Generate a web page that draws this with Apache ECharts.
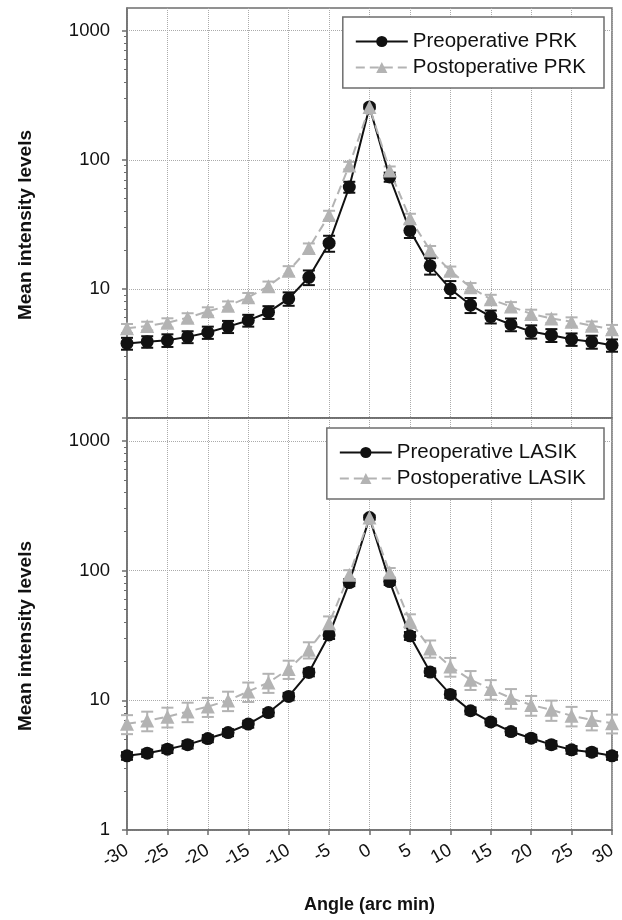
<!DOCTYPE html>
<html>
<head>
<meta charset="utf-8" />
<title>Mean intensity levels</title>
<script src="https://cdn.jsdelivr.net/npm/echarts@6/dist/echarts.min.js"></script>
<style>
  html, body { margin: 0; padding: 0; background: #fff; }
  #chart { width: 622px; height: 920px; }
</style>
</head>
<body>
<div id="chart"></div>
<script type="text/javascript">
  // angle of each measurement (arc min)
  var angles = [-30, -27.5, -25, -22.5, -20, -17.5, -15, -12.5, -10, -7.5, -5, -2.5, 0,
                2.5, 5, 7.5, 10, 12.5, 15, 17.5, 20, 22.5, 25, 27.5, 30];
  var yLabelsTop = [10, 100, 1000];
  var yLabelsBottom = [1, 10, 100, 1000];
  var yMajorTicks = [1, 10, 100, 1000];
  var yMinorTicks = [2, 3, 4, 5, 6, 7, 8, 9, 20, 30, 40, 50, 60, 70, 80, 90,
                     200, 300, 400, 500, 600, 700, 800, 900];

  // PRK panel
  var prkPre = [3.78, 3.9, 4.0, 4.25, 4.6, 5.1, 5.7, 6.6, 8.4, 12.3, 22.6, 61.6, 257,
                73.6, 28.3, 15.1, 10, 7.5, 6.1, 5.3, 4.67, 4.38, 4.07, 3.89, 3.66];
  var prkPreErr = [0.4, 0.4, 0.45, 0.45, 0.5, 0.55, 0.6, 0.75, 1.0, 1.6, 3.2, 6, 10,
                   6, 3.5, 2.2, 1.5, 1.0, 0.7, 0.6, 0.55, 0.5, 0.45, 0.45, 0.4];
  var prkPost = [4.95, 5.17, 5.47, 5.98, 6.7, 7.4, 8.6, 10.5, 13.8, 20.7, 37.3, 90.4, 257,
                 82.8, 35.2, 19.9, 13.8, 10.3, 8.3, 7.3, 6.4, 5.9, 5.57, 5.19, 4.86];
  var prkPostErr = [0.4, 0.4, 0.45, 0.5, 0.5, 0.6, 0.7, 0.9, 1.2, 1.8, 3, 6, 10,
                    6, 3, 1.6, 1.1, 0.8, 0.7, 0.6, 0.5, 0.45, 0.45, 0.4, 0.4];

  // LASIK panel
  var lasikPre = [3.73, 3.91, 4.2, 4.55, 5.07, 5.64, 6.55, 8.04, 10.7, 16.4, 31.9, 80.8, 256,
                  82.3, 31.4, 16.5, 11.1, 8.3, 6.8, 5.74, 5.1, 4.55, 4.15, 3.98, 3.73];
  var lasikPreErr = [0.25, 0.25, 0.28, 0.3, 0.32, 0.35, 0.4, 0.5, 0.7, 1.1, 2.2, 5, 10,
                     5, 2.2, 1.1, 0.7, 0.5, 0.4, 0.35, 0.32, 0.3, 0.28, 0.25, 0.25];
  var lasikPost = [6.58, 6.97, 7.47, 8.18, 8.94, 9.95, 11.7, 13.7, 17.4, 24.5, 39.3, 92.7, 256,
                   96.6, 41, 25.1, 18.2, 14.4, 12.2, 10.4, 9.2, 8.44, 7.59, 7.06, 6.65];
  var lasikPostErr = [1.1, 1.2, 1.3, 1.4, 1.5, 1.7, 2.0, 2.3, 2.8, 3.5, 5, 8, 10,
                      8, 5, 3.8, 3.0, 2.4, 2.1, 1.8, 1.6, 1.5, 1.3, 1.2, 1.1];

  var BLACK = "#111";
  var GRAY = "#b3b3b3";
  var FRAME = "#6e6e6e";
  var FONT = "Liberation Sans, Arial, sans-serif";

  function pairs(vals) {
    return angles.map(function (a, i) { return [a, vals[i]]; });
  }
  function bars(vals, err) {
    return angles.map(function (a, i) { return [a, vals[i] - err[i], vals[i] + err[i]]; });
  }

  function renderErr(color) {
    return function (params, api) {
      var x = api.value(0);
      var lo = api.coord([x, api.value(1)]);
      var hi = api.coord([x, api.value(2)]);
      var w = 6;
      var st = { stroke: color, lineWidth: 2 };
      return {
        type: "group",
        children: [
          { type: "line", shape: { x1: lo[0], y1: lo[1], x2: hi[0], y2: hi[1] }, style: st },
          { type: "line", shape: { x1: lo[0] - w, y1: lo[1], x2: lo[0] + w, y2: lo[1] }, style: st },
          { type: "line", shape: { x1: hi[0] - w, y1: hi[1], x2: hi[0] + w, y2: hi[1] }, style: st }
        ]
      };
    };
  }

  function errSeries(idx, vals, err, color) {
    return {
      type: "custom",
      xAxisIndex: idx,
      yAxisIndex: idx * 2,
      renderItem: renderErr(color),
      encode: { x: 0, y: [1, 2] },
      data: bars(vals, err),
      z: 2
    };
  }

  function lineSeries(idx, name, vals, color, dashed) {
    return {
      type: "line",
      name: name,
      xAxisIndex: idx,
      yAxisIndex: idx * 2,
      data: pairs(vals),
      symbol: dashed ? "triangle" : "circle",
      symbolSize: dashed ? 14 : 13,
      showSymbol: true,
      itemStyle: { color: color },
      lineStyle: { color: color, width: 2, type: dashed ? [9, 5] : "solid" },
      z: 3,
      animation: false
    };
  }

  function xAxis(idx, showLabels) {
    return {
      type: "value",
      gridIndex: idx,
      min: -30,
      max: 30,
      interval: 5,
      axisLine: { show: true, onZero: false, lineStyle: { color: FRAME, width: 1.5 } },
      axisTick: { show: showLabels, length: 5, lineStyle: { color: FRAME, width: 1.5 } },
      axisLabel: {
        show: showLabels,
        rotate: 30,
        margin: 19,
        fontSize: 18.5,
        color: BLACK,
        fontFamily: FONT
      },
      splitLine: { show: true, lineStyle: { type: "dotted", color: "#aaa", width: 1 } },
      name: showLabels ? "Angle (arc min)" : "",
      nameLocation: "middle",
      nameGap: 66,
      nameTextStyle: { fontSize: 18, fontWeight: "bold", color: BLACK, fontFamily: FONT }
    };
  }

  function yAxes(idx, labels) {
    return [
      {
        type: "log",
        logBase: 10,
        gridIndex: idx,
        min: 1,
        max: 1500,
        axisLine: { show: true, onZero: false, lineStyle: { color: FRAME, width: 1.5 } },
        axisTick: { show: true, length: 5, customValues: yMajorTicks, lineStyle: { color: FRAME, width: 1.5 } },
        axisLabel: {
          customValues: labels,
          formatter: function (v) { return String(Math.round(v)); },
          margin: 17,
          fontSize: 18.5,
          color: BLACK,
          fontFamily: FONT
        },
        splitLine: { show: true, lineStyle: { type: "dotted", color: "#aaa", width: 1 } },
        name: "Mean intensity levels",
        nameLocation: "middle",
        nameGap: 92,
        nameTextStyle: {
          fontSize: 19,
          fontWeight: "bold",
          color: BLACK,
          fontFamily: FONT,
          padding: [0, 24, 0, 0]
        }
      },
      {
        // minor ticks only
        type: "log",
        logBase: 10,
        gridIndex: idx,
        min: 1,
        max: 1500,
        position: "left",
        axisLine: { show: false, onZero: false },
        axisTick: { show: true, length: 3, customValues: yMinorTicks, lineStyle: { color: FRAME, width: 1 } },
        axisLabel: { show: false },
        splitLine: { show: false }
      }
    ];
  }

  function legend(top, names) {
    return {
      data: names,
      orient: "vertical",
      right: 18,
      top: top,
      itemWidth: 52,
      itemHeight: 14,
      itemGap: 5,
      padding: [14, 18, 10, 12],
      backgroundColor: "#fff",
      borderColor: FRAME,
      borderWidth: 1.5,
      borderRadius: 0,
      textStyle: { fontSize: 20.5, color: BLACK, fontFamily: FONT },
      selectedMode: false
    };
  }

  var chart = echarts.init(document.getElementById("chart"), null, { renderer: "canvas" });
  chart.setOption({
    animation: false,
    backgroundColor: "#fff",
    grid: [
      { left: 127, right: 10, top: 8, height: 410, show: true, borderColor: FRAME, borderWidth: 1.5 },
      { left: 127, right: 10, top: 418, height: 412, show: true, borderColor: FRAME, borderWidth: 1.5 }
    ],
    legend: [
      legend(17, ["Preoperative PRK", "Postoperative PRK"]),
      legend(428, ["Preoperative LASIK", "Postoperative LASIK"])
    ],
    xAxis: [xAxis(0, false), xAxis(1, true)],
    yAxis: yAxes(0, yLabelsTop).concat(yAxes(1, yLabelsBottom)),
    series: [
      errSeries(0, prkPre, prkPreErr, BLACK),
      lineSeries(0, "Preoperative PRK", prkPre, BLACK, false),
      errSeries(0, prkPost, prkPostErr, GRAY),
      lineSeries(0, "Postoperative PRK", prkPost, GRAY, true),
      errSeries(1, lasikPre, lasikPreErr, BLACK),
      lineSeries(1, "Preoperative LASIK", lasikPre, BLACK, false),
      errSeries(1, lasikPost, lasikPostErr, GRAY),
      lineSeries(1, "Postoperative LASIK", lasikPost, GRAY, true)
    ]
  });
</script>
</body>
</html>
